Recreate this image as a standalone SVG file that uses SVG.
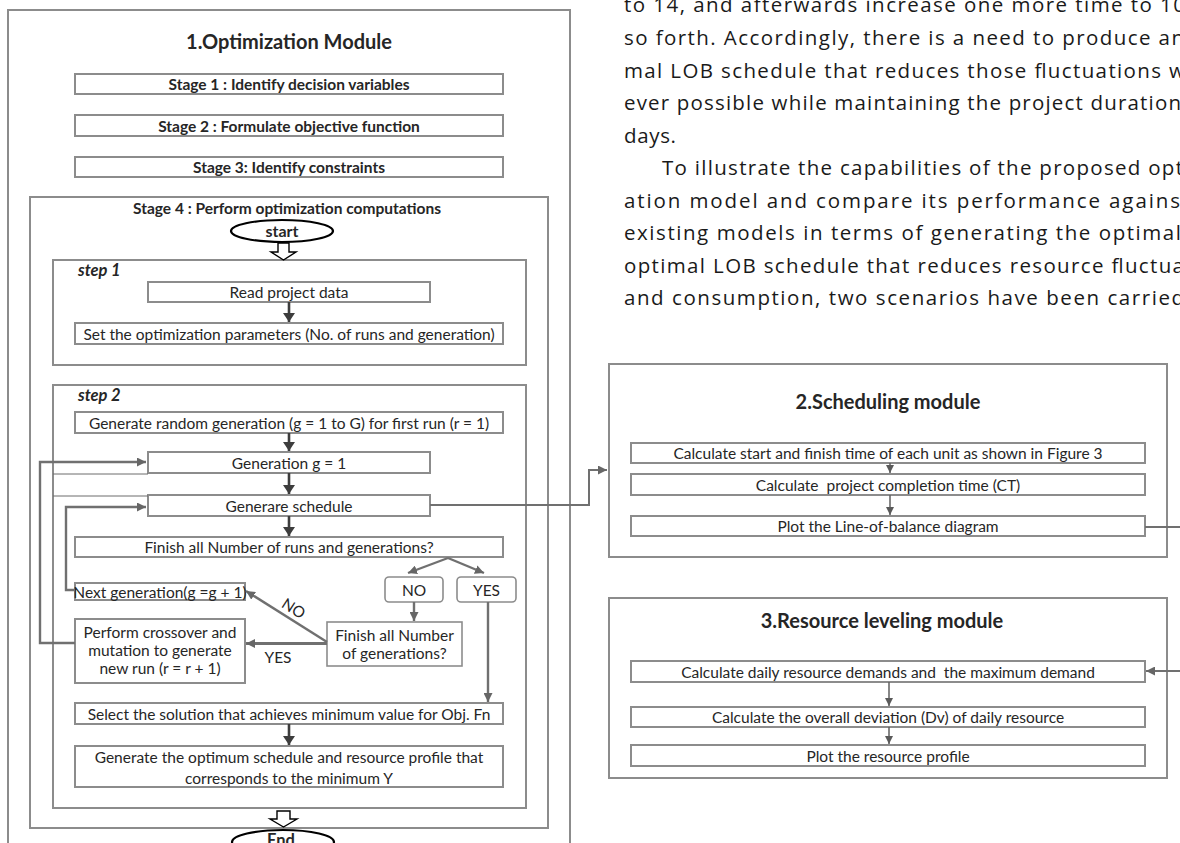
<svg xmlns="http://www.w3.org/2000/svg" width="1180" height="843" viewBox="0 0 1180 843">
<style>
.frame{fill:none;stroke:#8c8c8c;stroke-width:2}
.box{fill:#fff;stroke:#8c8c8c;stroke-width:2}
.rbox{fill:#fff;stroke:#8c8c8c;stroke-width:1.6}
.oval{fill:#fff;stroke:#000;stroke-width:2.2}
.blk{fill:#fff;stroke:#000;stroke-width:1.4}
.t{font-family:Lato,"Liberation Sans",sans-serif;fill:#262626;text-anchor:middle;dominant-baseline:central}
.b{font-weight:bold}
.l{font-size:15.5px}
.r{font-size:15.5px}
.st{font-size:15.5px;font-weight:bold}
.ttl{font-size:20px;font-weight:bold}
.step{font-family:Lato,"Liberation Sans",sans-serif;fill:#262626;font-size:16.5px;font-weight:bold;font-style:italic}
.dark{fill:none;stroke:#3d3d3d;stroke-width:2.6}
.gray{fill:none;stroke:#707070;stroke-width:2.4}
.thin{fill:none;stroke:#5f5f5f;stroke-width:1.5}
.hair{fill:none;stroke:#6d6d6d;stroke-width:1}
.para{font-family:"Open Sans","Liberation Sans",sans-serif;font-size:20.5px;fill:#1a1a1a}
</style>
<defs>
<marker id="mDark" viewBox="0 0 10 10" refX="10" refY="5" markerWidth="9" markerHeight="12" markerUnits="userSpaceOnUse" orient="auto" preserveAspectRatio="none"><path d="M0,0 L10,5 L0,10 z" fill="#3d3d3d"/></marker>
<marker id="mGray" viewBox="0 0 10 10" refX="10" refY="5" markerWidth="9" markerHeight="9" markerUnits="userSpaceOnUse" orient="auto"><path d="M0,0 L10,5 L0,10 z" fill="#666"/></marker>
<marker id="mThin" viewBox="0 0 10 10" refX="10" refY="5" markerWidth="8" markerHeight="8" markerUnits="userSpaceOnUse" orient="auto"><path d="M0,0 L10,5 L0,10 z" fill="#5a5a5a"/></marker>
</defs>

<rect width="1180" height="843" fill="#fff"/>

<!-- Body text (right column) -->
<g id="body-text" class="para">
<text x="624" y="12" textLength="561">to 14, and afterwards increase one more time to 10</text>
<text x="624" y="45" textLength="560">so forth. Accordingly, there is a need to produce an</text>
<text x="624" y="77.5" textLength="561">mal LOB schedule that reduces those fluctuations w</text>
<text x="624" y="110" textLength="557">ever possible while maintaining the project duration</text>
<text x="624" y="142.5" textLength="52">days.</text>
<text x="662" y="175" textLength="521">To illustrate the capabilities of the proposed opt</text>
<text x="624" y="207.5" textLength="556">ation model and compare its performance agains</text>
<text x="624" y="240" textLength="557">existing models in terms of generating the optimal</text>
<text x="624" y="272.5" textLength="560">optimal LOB schedule that reduces resource fluctua</text>
<text x="624" y="305" textLength="560">and consumption, two scenarios have been carried</text>
</g>

<!-- Module 1 -->
<g id="module1">
<rect class="frame" x="8" y="10" width="562" height="845"/>
<text class="t ttl" x="289" y="41">1.Optimization Module</text>
</g>
<g id="stage1"><rect class="box" x="75" y="74" width="428" height="20"/><text class="t st" x="289" y="84">Stage 1 : Identify decision variables</text></g>
<g id="stage2"><rect class="box" x="75" y="115" width="428" height="21"/><text class="t st" x="289" y="125.5">Stage 2 : Formulate objective function</text></g>
<g id="stage3"><rect class="box" x="75" y="157" width="428" height="20"/><text class="t st" x="289" y="167">Stage 3: Identify constraints</text></g>
<g id="stage4"><rect class="frame" x="30" y="197" width="518" height="631"/><text class="t st" x="287" y="208">Stage 4 : Perform optimization computations</text></g>
<g id="start"><ellipse class="oval" cx="282" cy="231" rx="51" ry="11"/><text class="t b" style="font-size:16px" x="282" y="230.5">start</text></g>
<g id="step1"><rect class="frame" x="53" y="260" width="473" height="105"/><text class="step" x="78" y="276">step 1</text></g>
<g id="read-data"><rect class="box" x="148" y="282" width="282" height="20"/><text class="t l" x="289" y="292">Read project data</text></g>
<g id="set-params"><rect class="box" x="75" y="323" width="428" height="21"/><text class="t l" x="289" y="333.5">Set the optimization parameters (No. of runs and generation)</text></g>
<g id="step2"><rect class="frame" x="53" y="385" width="473" height="423"/><text class="step" x="78" y="401">step 2</text></g>
<g id="gen-random"><rect class="box" x="75" y="412" width="428" height="21"/><text class="t l" x="289" y="422.5">Generate random generation (g = 1 to G) for first run (r = 1)</text></g>
<g id="gen-g1"><rect class="box" x="148" y="452" width="282" height="21"/><text class="t l" x="289" y="462.5">Generation g = 1</text></g>
<g id="gen-schedule"><rect class="box" x="148" y="495" width="282" height="21"/><text class="t l" x="289" y="505.5">Generare schedule</text></g>
<g id="finish-runs"><rect class="box" x="75" y="537" width="428" height="20"/><text class="t l" x="289" y="547">Finish all Number of runs and generations?</text></g>
<g id="no-box"><rect class="rbox" x="385" y="577" width="58" height="25" rx="4"/><text class="t l" x="414" y="589.5">NO</text></g>
<g id="yes-box"><rect class="rbox" x="457" y="577" width="59" height="25" rx="4"/><text class="t l" x="486.5" y="589.5">YES</text></g>
<g id="next-gen"><rect class="box" x="75" y="583" width="170" height="17"/><text class="t l" x="160" y="591.5">Next generation(g =g + 1)</text></g>
<g id="crossover"><rect class="box" x="75" y="619" width="170" height="64"/><text class="t l" x="160" y="632">Perform crossover and</text><text class="t l" x="160" y="650">mutation to generate</text><text class="t l" x="160" y="668">new run (r = r + 1)</text></g>
<g id="finish-gens"><rect class="rbox" x="327" y="622" width="135" height="44"/><text class="t l" x="394.5" y="634.5">Finish all Number</text><text class="t l" x="394.5" y="653">of generations?</text></g>
<g id="select"><rect class="box" x="75" y="703" width="428" height="21"/><text class="t l" x="289" y="713.5">Select the solution that achieves minimum value for Obj. Fn</text></g>
<g id="gen-optimum"><rect class="box" x="75" y="746" width="428" height="41"/><text class="t l" x="289" y="757">Generate the optimum schedule and resource profile that</text><text class="t l" x="289" y="777.5">corresponds to the minimum Y</text></g>
<g id="end"><ellipse class="oval" cx="283" cy="842" rx="51" ry="12"/><text class="t b" style="font-size:16.5px" x="281" y="840">End</text></g>

<!-- Module 2 -->
<g id="module2">
<rect class="frame" x="609" y="364" width="558" height="193"/>
<text class="t ttl" x="888" y="401">2.Scheduling module</text>
</g>
<g id="sched-1"><rect class="box" x="631" y="443" width="514" height="20"/><text class="t r" x="888" y="453">Calculate start and finish time of each unit as shown in Figure 3</text></g>
<g id="sched-2"><rect class="box" x="631" y="474" width="514" height="21"/><text class="t r" x="888" y="484.5" xml:space="preserve">Calculate  project completion time (CT)</text></g>
<g id="sched-3"><rect class="box" x="631" y="516" width="514" height="20"/><text class="t r" x="888" y="526">Plot the Line-of-balance diagram</text></g>

<!-- Module 3 -->
<g id="module3">
<rect class="frame" x="609" y="598" width="558" height="180"/>
<text class="t ttl" x="882" y="620">3.Resource leveling module</text>
</g>
<g id="res-1"><rect class="box" x="631" y="661" width="514" height="21"/><text class="t r" x="888" y="671.5" xml:space="preserve">Calculate daily resource demands and  the maximum demand</text></g>
<g id="res-2"><rect class="box" x="631" y="707" width="514" height="20"/><text class="t r" x="888" y="717">Calculate the overall deviation (Dv) of daily resource</text></g>
<g id="res-3"><rect class="box" x="631" y="745" width="514" height="21"/><text class="t r" x="888" y="755.5">Plot the resource profile</text></g>

<!-- Connectors -->
<g id="connectors">
<polygon class="blk" points="278,243 289,243 289,252 296,252 283.5,260 271,252 278,252"/>
<polygon class="blk" points="277,811 290,811 290,819 297,819 283.5,827 270,819 277,819"/>
<line class="dark" x1="289" y1="302" x2="289" y2="322" marker-end="url(#mDark)"/>
<line class="dark" x1="289" y1="433" x2="289" y2="451" marker-end="url(#mDark)"/>
<line class="dark" x1="289" y1="473" x2="289" y2="494" marker-end="url(#mDark)"/>
<line class="dark" x1="289" y1="516" x2="289" y2="536" marker-end="url(#mDark)"/>
<line class="dark" x1="289" y1="724" x2="289" y2="745" marker-end="url(#mDark)"/>
<line class="hair" x1="53" y1="474" x2="148" y2="474"/>
<line class="hair" x1="53" y1="496" x2="148" y2="496"/>
<path class="gray" d="M75,643 H40 V462 H146" marker-end="url(#mGray)"/>
<path class="gray" d="M75,590 H66 V507 H146" marker-end="url(#mGray)"/>
<path class="gray" d="M448,558 L408,573" marker-end="url(#mGray)"/>
<path class="gray" d="M448,558 L484,573" marker-end="url(#mGray)"/>
<line class="gray" x1="414" y1="602" x2="414" y2="621" marker-end="url(#mGray)"/>
<line class="gray" x1="488" y1="602" x2="488" y2="702" marker-end="url(#mGray)"/>
<line class="gray" x1="327" y1="642" x2="246" y2="591" marker-end="url(#mGray)"/>
<line class="gray" x1="327" y1="643.5" x2="246" y2="643.5" style="stroke-width:3.2" marker-end="url(#mGray)"/>
<text class="t l" transform="translate(294,608) rotate(33)">NO</text>
<text class="t l" x="278" y="657">YES</text>
<path class="gray" d="M430,505 H589 V470 H607" style="stroke-width:2" marker-end="url(#mGray)"/>
<line class="thin" x1="890" y1="463" x2="890" y2="473" marker-end="url(#mThin)"/>
<line class="thin" x1="890" y1="495" x2="890" y2="515" marker-end="url(#mThin)"/>
<line class="thin" x1="889" y1="682" x2="889" y2="706" marker-end="url(#mThin)"/>
<line class="thin" x1="889" y1="727" x2="889" y2="744" marker-end="url(#mThin)"/>
<path class="gray" d="M1145,527 H1195 V671 H1146" style="stroke-width:2" marker-end="url(#mGray)"/>
</g>
</svg>
